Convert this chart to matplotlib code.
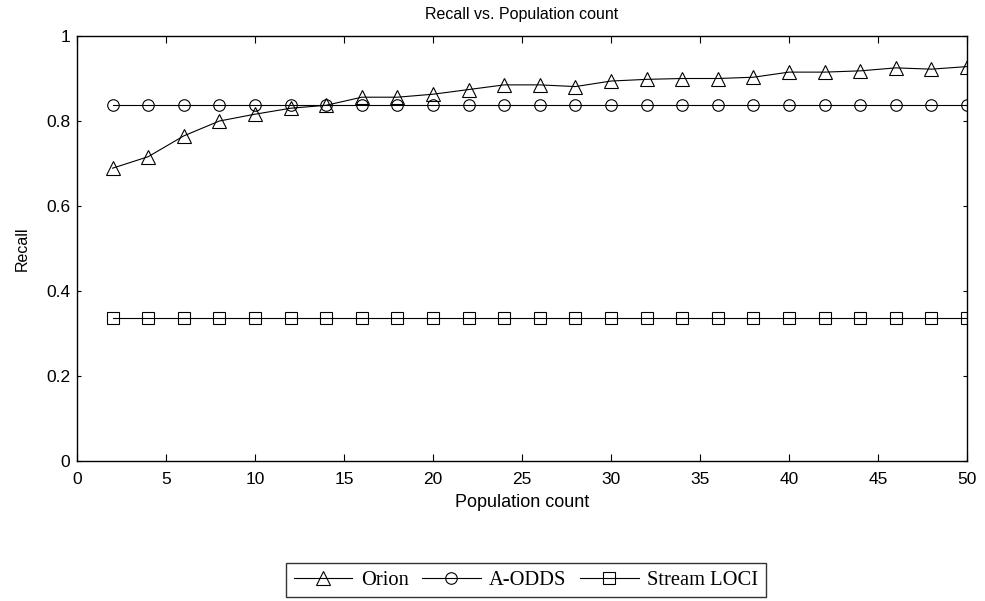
import matplotlib
matplotlib.use("Agg")
import matplotlib.pyplot as plt

population = [2, 4, 6, 8, 10, 12, 14, 16, 18, 20, 22, 24, 26, 28, 30,
              32, 34, 36, 38, 40, 42, 44, 46, 48, 50]
orion = [0.689, 0.716, 0.765, 0.800, 0.816, 0.830, 0.837, 0.856, 0.856, 0.863,
         0.874, 0.885, 0.885, 0.881, 0.894, 0.898, 0.900, 0.900, 0.903, 0.915,
         0.915, 0.918, 0.925, 0.922, 0.928]
aodds = [0.837, 0.837, 0.837, 0.837, 0.837, 0.837, 0.837, 0.837, 0.837, 0.837,
         0.837, 0.837, 0.837, 0.837, 0.837, 0.837, 0.837, 0.837, 0.837, 0.837,
         0.837, 0.837, 0.837, 0.837, 0.837]
stream_loci = [0.336, 0.336, 0.336, 0.336, 0.336, 0.336, 0.336, 0.336, 0.336, 0.336,
               0.336, 0.336, 0.336, 0.336, 0.336, 0.336, 0.336, 0.336, 0.336, 0.336,
               0.336, 0.336, 0.336, 0.336, 0.336]
series_names = ["Orion", "A-ODDS", "Stream LOCI"]
x_ticks = [0, 5, 10, 15, 20, 25, 30, 35, 40, 45, 50]
y_ticks = [0, 0.2, 0.4, 0.6, 0.8, 1]
y_tick_labels = ["0", "0.2", "0.4", "0.6", "0.8", "1"]

plt.rcParams['font.family'] = ['Liberation Sans', 'DejaVu Sans']

fig = plt.figure(figsize=(9.85, 6.01), dpi=100)
ax = fig.add_axes([77 / 985, 1 - 461 / 601, (967 - 77) / 985, (461 - 36) / 601])

common = dict(color='black', linewidth=0.8, markerfacecolor='none',
              markeredgecolor='black', markeredgewidth=0.8)
h1, = ax.plot(population, orion, marker='^', markersize=10, label=series_names[0], **common)
h2, = ax.plot(population, aodds, marker='o', markersize=8.3, label=series_names[1], **common)
h3, = ax.plot(population, stream_loci, marker='s', markersize=8.9, label=series_names[2], **common)

ax.set_xlim(0, 50)
ax.set_ylim(0, 1)
ax.set_xticks(x_ticks)
ax.set_xticklabels([str(t) for t in x_ticks])
ax.set_yticks(y_ticks)
ax.set_yticklabels(y_tick_labels)

ax.tick_params(axis='x', direction='in', length=5, width=0.8, top=True,
               labelsize=12.5, pad=8)
ax.tick_params(axis='y', direction='in', length=3, width=0.8, right=True,
               labelsize=12.5, pad=5)
for s in ax.spines.values():
    s.set_linewidth(1.0)

ax.set_title("Recall vs. Population count", fontsize=11.5, pad=12)
ax.set_xlabel("Population count", fontsize=13, labelpad=5)
ax.set_ylabel("Recall", fontsize=11.5, labelpad=12)

leg = fig.legend(handles=[h1, h2, h3], loc='center',
                 bbox_to_anchor=(526 / 985, 1 - 580 / 601), ncol=3,
                 prop={'family': 'Liberation Serif', 'size': 14.8},
                 handlelength=2.85, handletextpad=0.42, columnspacing=0.65,
                 borderpad=0.35, borderaxespad=0, fancybox=False, frameon=True,
                 edgecolor='black')
leg.get_frame().set_linewidth(1.0)

fig.savefig("out.png", dpi=100)
